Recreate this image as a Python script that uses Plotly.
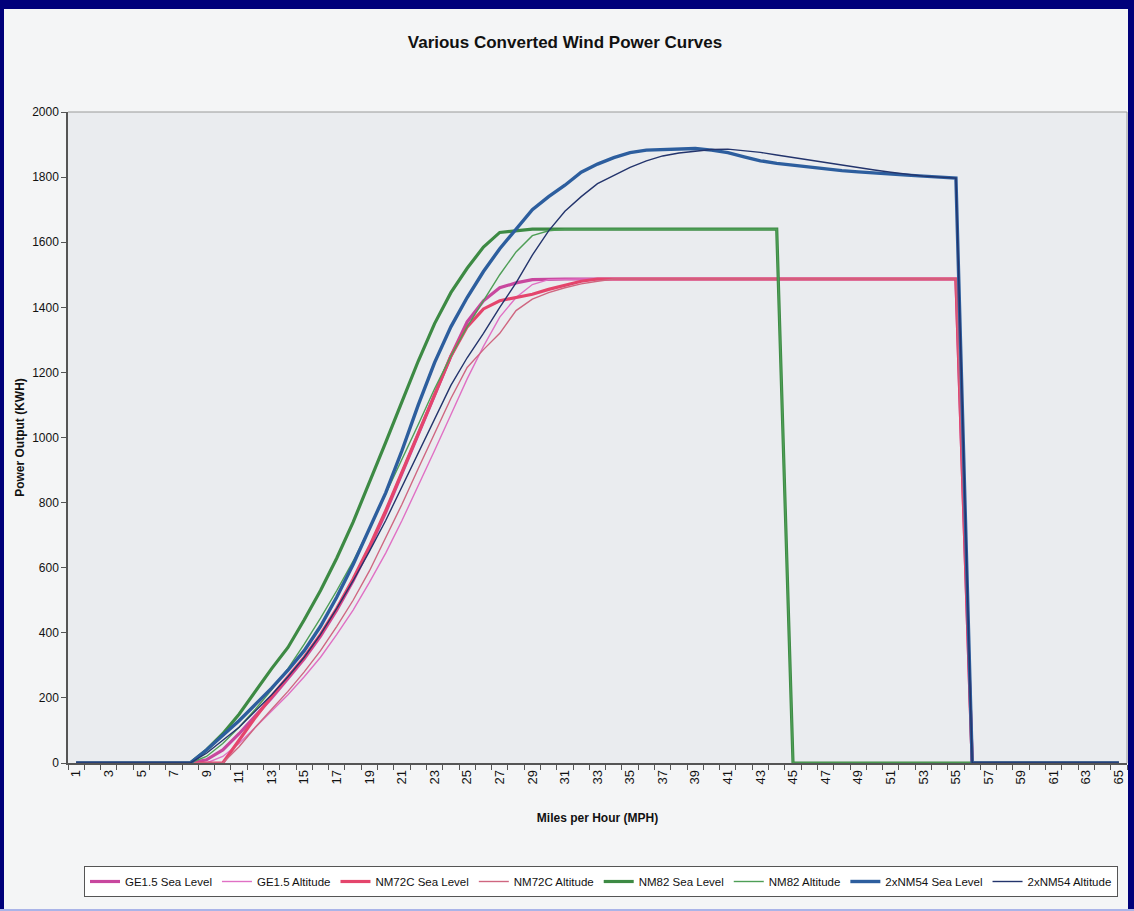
import plotly.graph_objects as go

mph = list(range(1, 66))
tick_labels = [str(v) for v in range(1, 66, 2)]

ge15_sea = [0, 0, 0, 0, 0, 0, 0, 0, 10, 40, 90, 145, 200, 260, 320, 390, 470, 560, 660, 770,
            890, 1010, 1130, 1250, 1355, 1420, 1460, 1475, 1485, 1487, 1487, 1487, 1487, 1487, 1487,
            1487, 1487, 1487, 1487, 1487, 1487, 1487, 1487, 1487, 1487, 1487, 1487, 1487, 1487, 1487,
            1487, 1487, 1487, 1487, 1487, 0, 0, 0, 0, 0, 0, 0, 0, 0, 0]
ge15_alt = [0, 0, 0, 0, 0, 0, 0, 0, 0, 20, 60, 110, 160, 210, 265, 325, 395, 470, 555, 645,
            745, 850, 960, 1070, 1180, 1280, 1370, 1430, 1470, 1485, 1487, 1487, 1487, 1487, 1487,
            1487, 1487, 1487, 1487, 1487, 1487, 1487, 1487, 1487, 1487, 1487, 1487, 1487, 1487, 1487,
            1487, 1487, 1487, 1487, 1487, 0, 0, 0, 0, 0, 0, 0, 0, 0, 0]
nm72c_sea = [0, 0, 0, 0, 0, 0, 0, 0, 0, 0, 70, 140, 205, 265, 325, 395, 475, 565, 665, 775,
             895, 1015, 1135, 1250, 1340, 1395, 1420, 1430, 1440, 1455, 1468, 1480, 1487, 1487, 1487,
             1487, 1487, 1487, 1487, 1487, 1487, 1487, 1487, 1487, 1487, 1487, 1487, 1487, 1487, 1487,
             1487, 1487, 1487, 1487, 1487, 0, 0, 0, 0, 0, 0, 0, 0, 0, 0]
nm72c_alt = [0, 0, 0, 0, 0, 0, 0, 0, 0, 0, 50, 110, 165, 220, 280, 345, 420, 500, 590, 690,
             795, 905, 1015, 1120, 1215, 1270, 1320, 1390, 1425, 1445, 1460, 1472, 1480, 1487, 1487,
             1487, 1487, 1487, 1487, 1487, 1487, 1487, 1487, 1487, 1487, 1487, 1487, 1487, 1487, 1487,
             1487, 1487, 1487, 1487, 1487, 0, 0, 0, 0, 0, 0, 0, 0, 0, 0]
nm82_sea = [0, 0, 0, 0, 0, 0, 0, 0, 40, 90, 150, 220, 290, 355, 440, 530, 630, 740, 860, 985,
            1110, 1235, 1350, 1445, 1520, 1585, 1630, 1635, 1640, 1640, 1640, 1640, 1640, 1640, 1640,
            1640, 1640, 1640, 1640, 1640, 1640, 1640, 1640, 1640, 0, 0, 0, 0, 0, 0,
            0, 0, 0, 0, 0, 0, 0, 0, 0, 0, 0, 0, 0, 0, 0]
nm82_alt = [0, 0, 0, 0, 0, 0, 0, 0, 20, 60, 110, 165, 225, 290, 365, 445, 530, 620, 720, 825,
            930, 1040, 1150, 1250, 1340, 1420, 1500, 1570, 1620, 1635, 1640, 1640, 1640, 1640, 1640,
            1640, 1640, 1640, 1640, 1640, 1640, 1640, 1640, 1640, 0, 0, 0, 0, 0, 0,
            0, 0, 0, 0, 0, 0, 0, 0, 0, 0, 0, 0, 0, 0, 0]
nm54_sea = [0, 0, 0, 0, 0, 0, 0, 0, 40, 85, 130, 180, 230, 285, 345, 420, 510, 610, 720, 830,
            960, 1100, 1230, 1340, 1430, 1510, 1580, 1640, 1700, 1740, 1775, 1815, 1840, 1860, 1875,
            1883, 1885, 1887, 1888, 1883, 1875, 1862, 1850, 1842, 1836, 1830, 1825, 1820, 1816, 1812,
            1809, 1806, 1803, 1800, 1797, 0, 0, 0, 0, 0, 0, 0, 0, 0, 0]
nm54_alt = [0, 0, 0, 0, 0, 0, 0, 0, 30, 70, 110, 160, 210, 265, 325, 395, 475, 560, 650, 745,
            850, 955, 1060, 1160, 1245, 1320, 1400, 1475, 1560, 1635, 1695, 1740, 1780, 1805, 1830,
            1850, 1865, 1874, 1880, 1885, 1886, 1882, 1876, 1868, 1860, 1852, 1845, 1838, 1830, 1822,
            1815, 1808, 1803, 1800, 1797, 0, 0, 0, 0, 0, 0, 0, 0, 0, 0]

series = [
    ("GE1.5 Sea Level", ge15_sea, "#c8479e", 3.2),
    ("GE1.5 Altitude", ge15_alt, "#e070c4", 1.4),
    ("NM72C Sea Level", nm72c_sea, "#e4456c", 3.2),
    ("NM72C Altitude", nm72c_alt, "#cf6680", 1.4),
    ("NM82 Sea Level", nm82_sea, "#3d8a44", 3.2),
    ("NM82 Altitude", nm82_alt, "#4e9e56", 1.4),
    ("2xNM54 Sea Level", nm54_sea, "#2d5e9e", 3.4),
    ("2xNM54 Altitude", nm54_alt, "#23346c", 1.4),
]

fig = go.Figure()
for name, vals, color, w in series:
    fig.add_trace(go.Scatter(x=mph, y=vals, mode="lines", name=name,
                             line=dict(color=color, width=w)))

W, H = 1134, 911
L, R, T, B = 68, 7, 112, 148
pw, ph = W - L - R, H - T - B


def px(x):
    return (x - L) / pw


def py(y):
    return (H - B - y) / ph


font = "Liberation Sans, Arial, sans-serif"

fig.update_layout(
    width=W, height=H,
    margin=dict(l=L, r=R, t=T, b=B, autoexpand=False),
    paper_bgcolor="#f4f5f6",
    plot_bgcolor="#eaecef",
    font=dict(family=font, size=12, color="#111111"),
    title=dict(text="<b>Various Converted Wind Power Curves</b>",
               x=565 / W, xanchor="center", y=1 - 42 / H, yanchor="middle",
               font=dict(family=font, size=17, color="#111111")),
    showlegend=True,
    legend=dict(orientation="h", x=px(84), y=py(866), xanchor="left", yanchor="top",
                bgcolor="#ffffff", bordercolor="#555555", borderwidth=1,
                font=dict(family=font, size=11.5, color="#111111"),
                itemwidth=30, tracegroupgap=0),
    xaxis=dict(range=[0.5, 65.5], tickmode="array", tickvals=list(range(1, 66, 2)),
               ticktext=tick_labels, tickangle=-90, ticks="", showgrid=False, zeroline=False,
               showline=True, linecolor="#555555", linewidth=1.5, mirror=False,
               tickfont=dict(family=font, size=13),
               minor=dict(tickmode="linear", tick0=0.5, dtick=1, ticks="outside",
                          ticklen=5, tickcolor="#555555", showgrid=False),
               title=dict(text="<b>Miles per Hour (MPH)</b>", standoff=30,
                          font=dict(family=font, size=12))),
    yaxis=dict(range=[0, 2000], dtick=200, ticks="outside", ticklen=5, tickcolor="#555555",
               showgrid=False, zeroline=False, showline=True, linecolor="#555555",
               linewidth=1.5, tickfont=dict(family=font, size=12),
               title=dict(text="<b>Power Output (KWH)</b>", standoff=5,
                          font=dict(family=font, size=12))),
)

# plot frame on top / right
fig.add_shape(type="line", xref="paper", yref="paper", x0=0, x1=1, y0=1, y1=1,
              line=dict(color="#9a9a9a", width=1))
fig.add_shape(type="line", xref="paper", yref="paper", x0=1, x1=1, y0=0, y1=1,
              line=dict(color="#9a9a9a", width=1))

# dark blue frame around the picture
navy = "#00007a"
fig.add_shape(type="rect", xref="paper", yref="paper", x0=px(0), x1=px(W), y0=py(9), y1=py(0),
              fillcolor=navy, line=dict(width=0), layer="above")
fig.add_shape(type="rect", xref="paper", yref="paper", x0=px(0), x1=px(4), y0=py(H), y1=py(0),
              fillcolor=navy, line=dict(width=0), layer="above")
fig.add_shape(type="rect", xref="paper", yref="paper", x0=px(W - 6), x1=px(W), y0=py(H), y1=py(0),
              fillcolor=navy, line=dict(width=0), layer="above")
fig.add_shape(type="rect", xref="paper", yref="paper", x0=px(0), x1=px(W), y0=py(H), y1=py(H - 2),
              fillcolor="#aab4e8", line=dict(width=0), layer="above")

fig.write_html("out.html", config={"displayModeBar": False},
               post_script="document.body.style.margin='0';"
                           "document.body.style.overflow='hidden';")
